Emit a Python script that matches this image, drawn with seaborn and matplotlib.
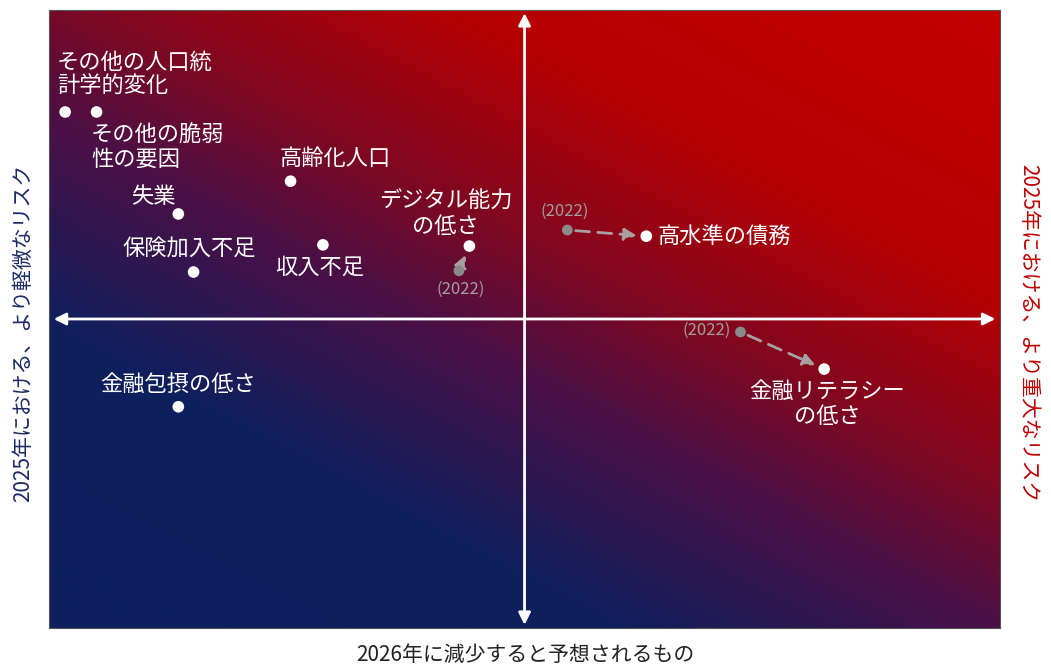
import matplotlib
matplotlib.use("Agg")
import matplotlib.pyplot as plt
import numpy as np
import pandas as pd
import seaborn as sns
from matplotlib.colors import LinearSegmentedColormap

# リスク項目 (2025年の位置)
labels = ["その他の人口統\n計学的変化", "その他の脆弱\n性の要因", "高齢化人口", "失業",
          "保険加入不足", "収入不足", "デジタル能力\nの低さ", "高水準の債務",
          "金融リテラシー\nの低さ", "金融包摂の低さ"]
x_2025 = [-4.83, -4.50, -2.46, -3.64, -3.48, -2.12, -0.58, 1.28, 3.15, -3.64]
y_2025 = [3.35, 3.35, 2.23, 1.70, 0.76, 1.20, 1.18, 1.34, -0.81, -1.42]

# 2022年からの移動
moved = ["デジタル能力\nの低さ", "高水準の債務", "金融リテラシー\nの低さ"]
x_2022 = [-0.69, 0.45, 2.27]
y_2022 = [0.78, 1.44, -0.21]

df = pd.DataFrame({"label": labels, "x": x_2025, "y": y_2025})
old = pd.DataFrame({"label": moved, "x": x_2022, "y": y_2022})

sns.set_theme(style="white")
plt.rcParams["font.family"] = ["Noto Sans CJK JP", "DejaVu Sans"]

fig = plt.figure(figsize=(10.51, 6.72), dpi=100)
ax = fig.add_axes([0.0466, 0.0655, 0.905, 0.9196])

# 背景グラデーション (左下: 紺 → 右上: 赤)
cmap = LinearSegmentedColormap.from_list("bg", [
    (0.0, "#0c1f5f"), (0.27, "#0f1f5d"), (0.45, "#4a1046"),
    (0.58, "#82071f"), (0.74, "#b50003"), (1.0, "#c20000")])
u, v = np.meshgrid(np.linspace(0, 1, 400), np.linspace(0, 1, 300))
ax.imshow(0.45 * u + 0.55 * v, cmap=cmap, extent=(-5, 5, -5, 5), origin="lower",
          aspect="auto", vmin=0, vmax=1, zorder=0)
ax.set_xlim(-5, 5)
ax.set_ylim(-5, 5)

# 中央の軸矢印
arrow = dict(arrowstyle="<|-|>", color="white", lw=2, mutation_scale=18,
             shrinkA=0, shrinkB=0)
ax.annotate("", xy=(4.95, 0), xytext=(-4.95, 0), arrowprops=arrow, zorder=2)
ax.annotate("", xy=(0, 4.95), xytext=(0, -4.95), arrowprops=arrow, zorder=2)

# 2022 → 2025 の破線矢印
for (_, o), lab in zip(old.iterrows(), moved):
    n = df[df["label"] == lab].iloc[0]
    ax.annotate("", xy=(n["x"], n["y"]), xytext=(o["x"], o["y"]),
                arrowprops=dict(arrowstyle="-|>", color="#a8a0a0", lw=2,
                                linestyle=(0, (5, 3)), mutation_scale=18,
                                shrinkA=6, shrinkB=7), zorder=3)

sns.scatterplot(data=old, x="x", y="y", color="#8a8a8a", s=60,
                edgecolor="none", ax=ax, zorder=4)
sns.scatterplot(data=df, x="x", y="y", color="white", s=70,
                edgecolor="none", ax=ax, zorder=5)

# ラベル配置 (dx, dy はポイント単位)
place = {
    "その他の人口統\n計学的変化": (-6, 10, "left", "bottom"),
    "その他の脆弱\n性の要因": (-4, -8, "left", "top"),
    "高齢化人口": (-8, 8, "left", "bottom"),
    "失業": (-2, 4, "right", "bottom"),
    "保険加入不足": (-3, 8, "center", "bottom"),
    "収入不足": (-2, -8, "center", "top"),
    "デジタル能力\nの低さ": (-17, 6, "center", "bottom"),
    "高水準の債務": (8, 0, "left", "center"),
    "金融リテラシー\nの低さ": (2, -8, "center", "top"),
    "金融包摂の低さ": (0, 8, "center", "bottom"),
}
for _, r in df.iterrows():
    dx, dy, ha, va = place[r["label"]]
    ax.annotate(r["label"], (r["x"], r["y"]), xytext=(dx, dy),
                textcoords="offset points", ha=ha, va=va, color="white",
                fontsize=16, linespacing=1.1, zorder=6)

yr = {"デジタル能力\nの低さ": (1, -7, "center", "top"),
      "高水準の債務": (-2, 7, "center", "bottom"),
      "金融リテラシー\nの低さ": (-7, 1, "right", "center")}
for _, r in old.iterrows():
    dx, dy, ha, va = yr[r["label"]]
    ax.annotate("(2022)", (r["x"], r["y"]), xytext=(dx, dy),
                textcoords="offset points", ha=ha, va=va, color="#a0a0a0",
                fontsize=12, zorder=6)

ax.set_xticks([])
ax.set_yticks([])
ax.set_xlabel("")
ax.set_ylabel("")
for s in ax.spines.values():
    s.set_color("#555555")
    s.set_linewidth(0.8)

fig.text(0.4995, 0.025, "2026年に減少すると予想されるもの", ha="center",
         va="center", fontsize=15, color="#222222")
fig.text(0.022, 0.505, "2025年における、より軽微なリスク", ha="center",
         va="center", rotation=90, fontsize=15, color="#1c2a66")
fig.text(0.978, 0.505, "2025年における、より重大なリスク", ha="center",
         va="center", rotation=-90, fontsize=15, color="#c00000")

fig.savefig("out.png", dpi=100)
